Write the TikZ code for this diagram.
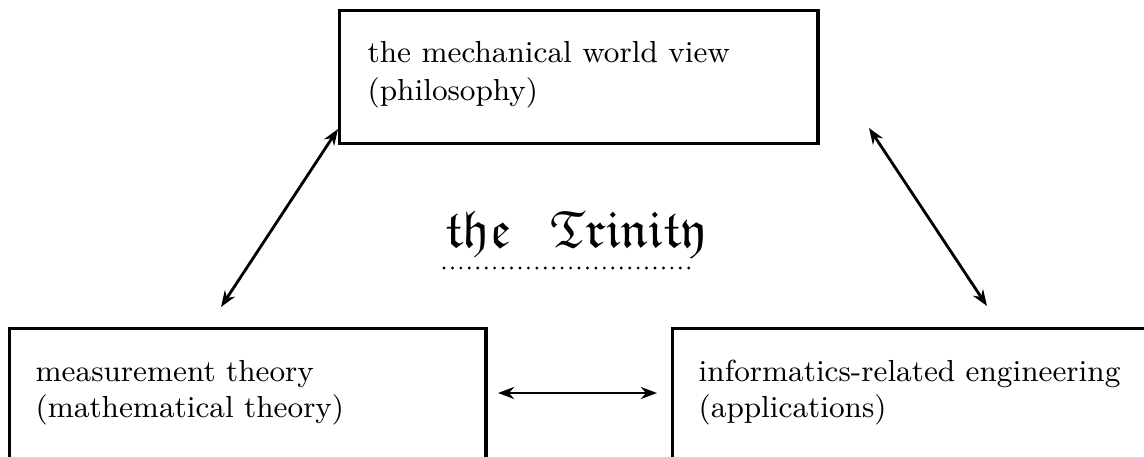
\documentclass[tikz,border=0pt]{standalone}
\usepackage{amssymb}
\usetikzlibrary{arrows.meta}
\begin{document}
\begin{tikzpicture}[x=0.01cm,y=-0.01cm,
  box/.style={draw,line width=0.95pt,rectangle,inner sep=0pt,anchor=north west},
  lbl/.style={anchor=base west,inner sep=0pt,font=\fontsize{8.65}{10.5}\selectfont},
  link/.style={line width=0.8pt,{Stealth[length=4.6pt,width=3.4pt]}-{Stealth[length=4.6pt,width=3.4pt]}},
  dotline/.style={line width=0.9pt,line cap=round,dash pattern=on 0pt off 2.4pt}]
\useasboundingbox (0,0) rectangle (1144,457);
% boxes
\node[box,minimum width=4.78cm,minimum height=1.33cm] (top) at (338,9) {};
\node[box,minimum width=4.76cm,minimum height=1.8cm] (left) at (8,327) {};
\node[box,minimum width=5.0cm,minimum height=1.8cm] (right) at (671,327) {};
% texts
\node[lbl] (t1) at (367,62) {the mechanical world view};
\node[lbl] (t2) at (367,100) {(philosophy)};
\node[lbl] (l1) at (35,381) {measurement theory};
\node[lbl] (l2) at (35,417) {(mathematical theory)};
\node[lbl] (r1) at (698,381) {informatics-related engineering};
\node[lbl] (r2) at (698,417) {(applications)};
% title
\node[anchor=base,inner sep=0pt] (trinity) at (576,247) {\fontsize{14.9}{17}\selectfont$\mathfrak{the}\ \,\;\mathfrak{Trinity}$};
\coordinate (d1) at (444,268);
\coordinate (d2) at (697,268);
\draw[dotline] (d1) -- (d2);
% arrows
\coordinate (a1) at (338,129);
\coordinate (a2) at (221,307);
\coordinate (b1) at (869,128);
\coordinate (b2) at (987,306);
\coordinate (c1) at (498,393);
\coordinate (c2) at (657,393);
\draw[link] (a1) -- (a2);
\draw[link] (b1) -- (b2);
\draw[link] (c1) -- (c2);
\end{tikzpicture}
\end{document}
